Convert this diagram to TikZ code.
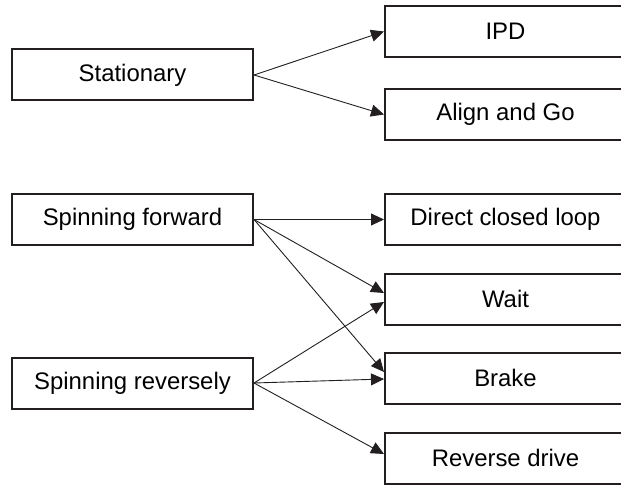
\documentclass[tikz,border=0pt]{standalone}
\usepackage{fontspec}
\setmainfont{Liberation Sans}
\usetikzlibrary{arrows.meta}
\definecolor{boxline}{HTML}{231F20}
\begin{document}
\begin{tikzpicture}[x=1bp,y=-1bp,
  box/.style={draw=boxline,line width=2bp,rectangle,minimum width=241bp,minimum height=51bp,inner sep=0pt,font=\fontsize{24}{28}\selectfont,text=black},
  conn/.style={draw=boxline,line width=0.9bp,-{Triangle[length=13bp,width=12bp]}}]
\useasboundingbox (0,0) rectangle (621,486);
\begin{scope}
\clip (0,0) rectangle (621,486);
\node[box] (st) at (132.5,75) {Stationary};
\node[box] (sf) at (132.5,219.5) {Spinning forward};
\node[box] (sr) at (132.5,383) {Spinning reversely};
\node[box] (ipd) at (505.5,31.5) {IPD};
\node[box] (ag) at (505.5,114.5) {Align and Go};
\node[box] (dcl) at (505.5,219.5) {Direct closed loop};
\node[box] (wt) at (505.5,299) {Wait};
\node[box] (br) at (505.5,378) {Brake};
\node[box] (rd) at (505.5,458) {Reverse drive};
\end{scope}
\draw[conn] (st.east) -- (ipd.west);
\draw[conn] (st.east) -- (ag.west);
\draw[conn] (sf.east) -- (dcl.west);
\draw[conn] (sf.east) -- ([yshift=6bp]wt.west);
\draw[conn] (sf.east) -- ([yshift=6bp]br.west);
\draw[conn] (sr.east) -- ([yshift=-3bp]wt.west);
\draw[conn] (sr.east) -- ([yshift=-1bp]br.west);
\draw[conn] (sr.east) -- ([yshift=4bp]rd.west);
\end{tikzpicture}
\end{document}
